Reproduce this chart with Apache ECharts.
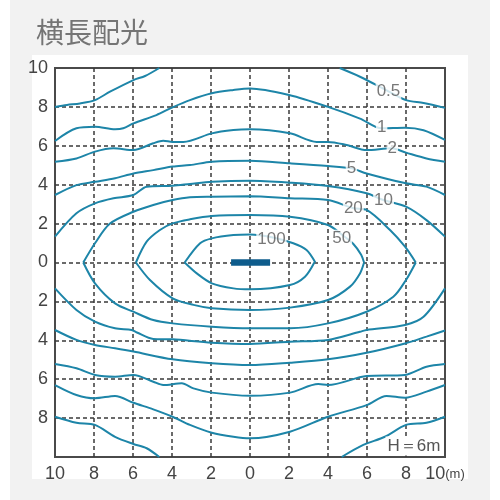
<!DOCTYPE html>
<html>
<head>
<meta charset="utf-8">
<script src="https://cdn.jsdelivr.net/npm/echarts@6/dist/echarts.min.js"></script>
<style>
    body { margin: 0; background: #fff; }
    #bg { position: absolute; left: 10px; top: 0; width: 480px; height: 500px; background: #f2f2f2; }
    #panel { position: absolute; left: 32px; top: 55px; width: 436px; height: 424px; background: #fff; }
    #chart { position: absolute; left: 0; top: 0; width: 500px; height: 500px; }
</style>
</head>
<body>
<div id="bg"></div>
<div id="panel"></div>
<div id="chart"></div>
<script>
// contour lines (m), top half and bottom half of each level
const c05TopL = [[-10, 8.0], [-9.38, 8.1], [-8.72, 8.18], [-7.95, 8.35], [-7.18, 8.78], [-5.98, 9.38], [-5.38, 9.59], [-4.65, 10]];
const c05TopR = [[4.6, 10], [5.64, 9.55], [7.1, 8.8], [8.0, 8.35], [8.9, 8.2], [10, 7.95]];
const c05BotL = [[-10, -7.93], [-8.9, -8.24], [-7.95, -8.35], [-6.92, -8.96], [-5.98, -9.33], [-5.3, -9.55], [-4.65, -10]];
const c05BotR = [[4.7, -10], [5.81, -9.38], [6.92, -8.96], [8.0, -8.35], [9.05, -8.24], [10, -7.93]];

const c1Top = [[-10, 6.25], [-8.9, 6.9], [-7.95, 6.98], [-6.92, 6.85], [-6.5, 6.9], [-5.98, 7.15], [-4.8, 7.58], [-3.97, 7.98], [-3.08, 8.35], [-1.96, 8.7], [-0.85, 8.87], [0, 8.95], [2.05, 8.6], [4.0, 8.0], [5.64, 7.4], [6.75, 6.9], [7.95, 6.93], [8.9, 6.8], [10, 6.3]];
const c1Bot = [[-10, -6.3], [-8.9, -6.81], [-7.95, -6.98], [-6.92, -6.86], [-5.98, -7.21], [-4.96, -7.55], [-3.97, -7.93], [-3.08, -8.35], [-1.96, -8.75], [-0.85, -8.96], [0, -9.04], [2.05, -8.7], [4.0, -7.93], [5.98, -7.33], [7.0, -6.86], [7.95, -6.95], [9.05, -6.64], [10, -6.3]];

const c2Top = [[-10, 5.18], [-8.9, 5.35], [-7.95, 5.7], [-7.0, 5.87], [-5.98, 5.78], [-4.96, 6.13], [-4.45, 6.26], [-3.97, 6.2], [-3.42, 6.2], [-1.96, 6.64], [-0.85, 6.81], [0, 6.85], [2.05, 6.64], [3.42, 6.2], [4.0, 6.2], [4.96, 6.04], [5.98, 5.78], [7.26, 5.87], [8.0, 5.65], [9.05, 5.35], [10, 5.18]];
const c2Bot = [[-10, -5.22], [-8.9, -5.44], [-7.95, -5.78], [-6.92, -5.87], [-5.98, -5.78], [-4.96, -6.13], [-4.45, -6.3], [-3.5, -6.21], [-2.9, -6.47], [-1.96, -6.69], [0, -6.85], [2.05, -6.69], [3.5, -6.25], [4.0, -6.3], [5.98, -5.84], [7.95, -5.78], [9.05, -5.36], [10, -5.22]];

const c5Top = [[-10, 3.47], [-8.9, 3.98], [-7.95, 4.15], [-6.92, 4.33], [-5.98, 4.58], [-4.96, 4.75], [-3.97, 4.93], [-3.08, 5.01], [-1.96, 5.18], [0, 5.23], [2.05, 5.1], [4.0, 4.96], [5.2, 4.84], [5.98, 4.58], [8.0, 4.07], [9.05, 3.9], [10, 3.47]];
const c5Bot = [[-10, -3.47], [-8.9, -3.98], [-7.95, -4.24], [-6.92, -4.41], [-5.98, -4.58], [-3.97, -4.98], [-1.96, -5.18], [0, -5.27], [2.05, -5.15], [4.0, -4.98], [5.98, -4.64], [7.95, -4.16], [9.05, -3.81], [10, -3.5]];

const c10Top = [[-10, 1.33], [-8.9, 2.53], [-7.95, 3.04], [-7.0, 3.3], [-5.98, 3.47], [-5.3, 3.9], [-3.97, 3.95], [-3.08, 4.04], [-1.96, 4.15], [0, 4.2], [2.05, 4.1], [4.0, 3.93], [5.98, 3.56], [6.84, 3.21], [8.0, 2.87], [9.05, 2.18], [10, 1.33]];
const c10Bot = [[-10, -1.33], [-8.9, -2.44], [-7.95, -3.04], [-6.92, -3.38], [-6.07, -3.47], [-5.8, -3.6], [-4.96, -3.93], [-3.97, -3.95], [-1.96, -4.12], [0, -4.19], [2.05, -4.07], [4.0, -3.98], [5.64, -3.56], [5.98, -3.47], [7.95, -3.21], [8.9, -2.79], [10, -1.33]];

const c20Top = [[-8.55, 0], [-7.95, 0.99], [-7.18, 2.0], [-5.98, 2.61], [-4.96, 2.96], [-3.97, 3.21], [-3.08, 3.35], [-1.96, 3.38], [0, 3.4], [2.05, 3.3], [4.0, 3.21], [5.3, 2.79], [5.98, 2.7], [7.18, 1.67], [7.95, 0.81], [8.5, 0]];
const c20Bot = [[-8.55, 0], [-7.95, -1.07], [-6.92, -2.1], [-5.98, -2.53], [-4.96, -2.96], [-3.97, -3.13], [-1.96, -3.3], [0, -3.38], [2.05, -3.38], [4.0, -3.13], [5.98, -2.53], [7.35, -1.76], [8.0, -0.9], [8.5, 0]];

const c50Top = [[-5.85, 0], [-5.3, 1.07], [-4.62, 1.67], [-3.97, 2.01], [-3.08, 2.22], [-1.96, 2.39], [0, 2.44], [2.05, 2.35], [4.0, 1.93], [4.75, 1.4], [5.3, 0.95], [5.7, 0.4], [5.85, 0]];
const c50Bot = [[-5.85, 0], [-5.13, -0.9], [-3.97, -1.84], [-2.9, -2.18], [-1.96, -2.35], [0, -2.44], [2.05, -2.32], [4.0, -1.93], [5.13, -1.24], [5.64, -0.56], [5.85, 0]];

const c100Top = [[-3.35, 0], [-2.56, 0.99], [-1.96, 1.24], [-0.85, 1.41], [0, 1.44], [1.11, 1.3], [2.22, 0.99], [2.9, 0.64], [3.35, 0]];
const c100Bot = [[-3.35, 0], [-2.73, -0.56], [-1.96, -1.07], [-0.85, -1.33], [0, -1.38], [2.05, -1.16], [2.82, -0.73], [3.3, 0]];

const contourLabels = [[7.1, 8.8, '0.5'], [6.75, 6.95, '1'], [7.3, 5.85, '2'], [5.2, 4.85, '5'], [6.85, 3.2, '10'], [5.3, 2.8, '20'], [4.7, 1.25, '50'], [1.1, 1.2, '100']];

// light fixture, drawn across the origin
const lamp = [[-0.97, 0], [1.03, 0]];

const lineColor = '#1d85a8';
const textFont = "'Liberation Sans Narrow', 'Liberation Sans', sans-serif";

const contours = [c05TopL, c05TopR, c05BotL, c05BotR, c1Top, c1Bot, c2Top, c2Bot, c5Top, c5Bot,
    c10Top, c10Bot, c20Top, c20Bot, c50Top, c50Bot, c100Top, c100Bot];

const series = contours.map(d => ({
    type: 'line',
    data: d,
    smooth: 0.3,
    showSymbol: false,
    silent: true,
    lineStyle: { color: lineColor, width: 2 },
    z: 2
}));

series.push({
    type: 'scatter',
    data: contourLabels,
    symbolSize: 1,
    itemStyle: { color: 'transparent' },
    silent: true,
    z: 5,
    label: {
        show: true,
        position: 'inside',
        formatter: p => p.data[2],
        color: '#555',
        fontSize: 17,
        fontFamily: textFont,
        backgroundColor: '#fff',
        padding: [0, 1]
    }
});

series.push({
    type: 'line',
    data: lamp,
    showSymbol: false,
    silent: true,
    lineStyle: { color: '#0e5c8c', width: 6.5, cap: 'butt' },
    z: 6
});

const chart = echarts.init(document.getElementById('chart'));
chart.setOption({
    animation: false,
    title: {
        text: '横長配光',
        left: 31,
        top: 13,
        textStyle: { fontSize: 28, fontWeight: 'normal', color: '#757575', fontFamily: 'Noto Sans CJK JP' }
    },
    grid: {
        left: 55, right: 55, top: 68, bottom: 43,
        show: true,
        borderColor: '#4a4a4a',
        borderWidth: 2,
        backgroundColor: 'transparent'
    },
    xAxis: {
        type: 'value',
        min: -10, max: 10, interval: 2,
        axisLine: { show: false },
        axisTick: { show: false },
        splitLine: {
            show: true, showMinLine: false, showMaxLine: false,
            lineStyle: { color: '#3a3a3a', width: 1.5, type: [4, 3] }
        },
        axisLabel: {
            margin: 8,
            color: '#444',
            fontSize: 18,
            fontFamily: textFont,
            formatter: v => v === 10 ? '10{u|(m)}' : String(Math.abs(v)),
            rich: { u: { fontSize: 13, color: '#444', fontFamily: textFont } }
        }
    },
    yAxis: {
        type: 'value',
        min: -10, max: 10, interval: 2,
        axisLine: { show: false },
        axisTick: { show: false },
        splitLine: {
            show: true, showMinLine: false, showMaxLine: false,
            lineStyle: { color: '#3a3a3a', width: 1.5, type: [4, 3] }
        },
        axisLabel: {
            margin: 7,
            color: '#444',
            fontSize: 18,
            fontFamily: textFont,
            formatter: v => v === -10 ? '' : String(Math.abs(v))
        }
    },
    graphic: [{
        type: 'text',
        x: 414, y: 446,
        z: 10,
        style: {
            text: 'H＝6m',
            fill: '#555',
            font: "17px 'Liberation Sans Narrow', 'Liberation Sans', sans-serif",
            textAlign: 'center',
            textVerticalAlign: 'middle',
            backgroundColor: '#fff',
            padding: [1, 2]
        }
    }],
    series: series
});
</script>
</body>
</html>
